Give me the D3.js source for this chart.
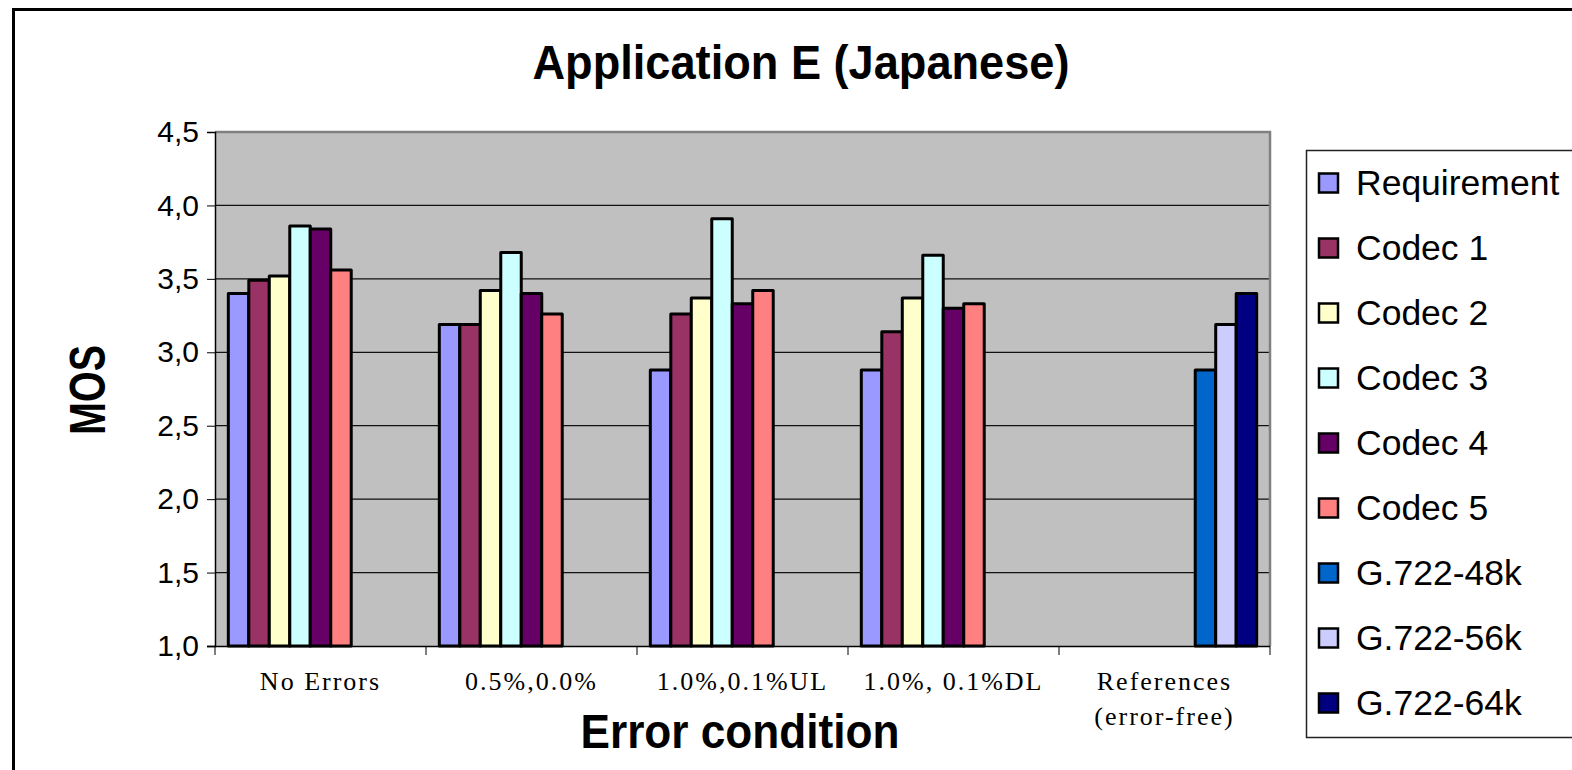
<!DOCTYPE html>
<html>
<head>
<meta charset="utf-8">
<script src="https://cdn.jsdelivr.net/npm/d3@7"></script>
<style>
  body { margin: 0; background: #fff; }
  svg { display: block; }
</style>
</head>
<body>
<div id="chart"></div>
<script>
// categories (x axis), two-line labels
const categories = ["No Errors", "0.5%,0.0%", "1.0%,0.1%UL", "1.0%, 0.1%DL", "References"];
const categoryLines = [["No Errors"], ["0.5%,0.0%"], ["1.0%,0.1%UL"], ["1.0%, 0.1%DL"], ["References", "(error-free)"]];

const seriesNames = ["Requirement", "Codec 1", "Codec 2", "Codec 3", "Codec 4", "Codec 5", "G.722-48k", "G.722-56k", "G.722-64k"];
const seriesColors = ["#9999FF", "#993366", "#FFFFCC", "#CCFFFF", "#660066", "#FF8080", "#0066CC", "#CCCCFF", "#000080"];

// MOS values per series, one per category (null = no bar)
const requirement = [3.40, 3.19, 2.88, 2.88, null];
const codec1 = [3.49, 3.19, 3.26, 3.14, null];
const codec2 = [3.52, 3.42, 3.37, 3.37, null];
const codec3 = [3.86, 3.68, 3.91, 3.66, null];
const codec4 = [3.84, 3.40, 3.33, 3.30, null];
const codec5 = [3.56, 3.26, 3.42, 3.33, null];
const g722_48 = [null, null, null, null, 2.88];
const g722_56 = [null, null, null, null, 3.19];
const g722_64 = [null, null, null, null, 3.40];
const seriesValues = [requirement, codec1, codec2, codec3, codec4, codec5, g722_48, g722_56, g722_64];

const yTicks = [1.0, 1.5, 2.0, 2.5, 3.0, 3.5, 4.0, 4.5];

const width = 1572, height = 770;
const plot = { left: 215, right: 1270, top: 132, bottom: 646 };

const svg = d3.select("#chart").append("svg")
  .attr("width", width)
  .attr("height", height);

// outer chart border (runs off the right / bottom edges)
svg.append("rect")
  .attr("x", 13.5).attr("y", 9.5)
  .attr("width", 1700).attr("height", 900)
  .attr("fill", "#fff")
  .attr("stroke", "#000")
  .attr("stroke-width", 3);

// scales
const x0 = d3.scaleBand()
  .domain(categories)
  .range([plot.left, plot.right]);

const x1 = d3.scaleBand()
  .domain(seriesNames)
  .range([0, x0.bandwidth()])
  .paddingOuter(0.65);

const y = d3.scaleLinear()
  .domain([1, 4.5])
  .range([plot.bottom, plot.top]);

// plot area
svg.append("rect")
  .attr("x", plot.left).attr("y", plot.top)
  .attr("width", plot.right - plot.left)
  .attr("height", plot.bottom - plot.top)
  .attr("fill", "#C0C0C0");

// gridlines
svg.append("g")
  .selectAll("line")
  .data(yTicks.filter(d => d > 1 && d < 4.5))
  .join("line")
  .attr("x1", plot.left).attr("x2", plot.right)
  .attr("y1", d => y(d)).attr("y2", d => y(d))
  .attr("stroke", "#111")
  .attr("stroke-width", 1.3);

// top and right plot border (gray)
svg.append("path")
  .attr("d", `M${plot.left},${plot.top} H${plot.right} V${plot.bottom}`)
  .attr("fill", "none")
  .attr("stroke", "#808080")
  .attr("stroke-width", 2.5);

// bars
const barData = [];
seriesNames.forEach((s, i) => {
  seriesValues[i].forEach((v, j) => {
    if (v != null) barData.push({ series: s, cat: categories[j], value: v, color: seriesColors[i] });
  });
});

svg.append("g")
  .selectAll("rect")
  .data(barData)
  .join("rect")
  .attr("x", d => x0(d.cat) + x1(d.series))
  .attr("width", x1.bandwidth())
  .attr("y", d => y(d.value))
  .attr("height", d => plot.bottom - y(d.value))
  .attr("fill", d => d.color)
  .attr("stroke", "#000")
  .attr("stroke-width", 3)
  .attr("stroke-linejoin", "round");

// Y axis
const yAxis = svg.append("g")
  .attr("transform", `translate(${plot.left},0)`)
  .call(d3.axisLeft(y)
    .tickValues(yTicks)
    .tickSize(8)
    .tickPadding(8)
    .tickFormat(d => d3.format(".1f")(d).replace(".", ",")));
yAxis.select(".domain").attr("stroke", "#000").attr("stroke-width", 1.5);
yAxis.selectAll(".tick line").attr("stroke", "#000").attr("stroke-width", 1);
yAxis.selectAll("text")
  .attr("font-family", "'Liberation Sans', Arial, sans-serif")
  .attr("font-size", 30)
  .attr("fill", "#000");

// X axis
const xAxis = svg.append("g")
  .attr("transform", `translate(0,${plot.bottom})`)
  .call(d3.axisBottom(x0).tickSize(0).tickFormat(""));
xAxis.select(".domain").attr("stroke", "#000").attr("stroke-width", 1.5)
  .attr("d", `M${plot.left - 8},0.5H${plot.right}`);

// category separator ticks
const sepX = categories.map(c => x0(c)).concat([plot.right]);
xAxis.append("g")
  .selectAll("line")
  .data(sepX)
  .join("line")
  .attr("x1", d => d).attr("x2", d => d)
  .attr("y1", 0).attr("y2", 9)
  .attr("stroke", "#000")
  .attr("stroke-width", 1);

// category labels
xAxis.append("g")
  .selectAll("text")
  .data(categories)
  .join("text")
  .attr("x", d => x0(d) + x0.bandwidth() / 2)
  .attr("y", 44)
  .attr("text-anchor", "middle")
  .attr("font-family", "'Liberation Serif', 'Times New Roman', serif")
  .attr("font-size", 26)
  .attr("letter-spacing", 2)
  .attr("fill", "#000")
  .selectAll("tspan")
  .data((d, i) => categoryLines[i])
  .join("tspan")
  .attr("x", function() { return this.parentNode.getAttribute("x"); })
  .attr("dy", (d, i) => i === 0 ? 0 : 35)
  .text(d => d);

// titles
svg.append("text")
  .attr("x", 801).attr("y", 79)
  .attr("text-anchor", "middle")
  .attr("font-family", "'Liberation Sans', Arial, sans-serif")
  .attr("font-weight", "bold")
  .attr("font-size", 48)
  .attr("textLength", 537)
  .attr("lengthAdjust", "spacingAndGlyphs")
  .text("Application E (Japanese)");

svg.append("text")
  .attr("transform", "translate(105,390) rotate(-90)")
  .attr("text-anchor", "middle")
  .attr("font-family", "'Liberation Sans', Arial, sans-serif")
  .attr("font-weight", "bold")
  .attr("font-size", 50)
  .attr("textLength", 90)
  .attr("lengthAdjust", "spacingAndGlyphs")
  .text("MOS");

svg.append("text")
  .attr("x", 740).attr("y", 748)
  .attr("text-anchor", "middle")
  .attr("font-family", "'Liberation Sans', Arial, sans-serif")
  .attr("font-weight", "bold")
  .attr("font-size", 48)
  .attr("textLength", 319)
  .attr("lengthAdjust", "spacingAndGlyphs")
  .text("Error condition");

// legend
const legend = svg.append("g");
legend.append("rect")
  .attr("x", 1306.5).attr("y", 150.5)
  .attr("width", 400).attr("height", 587)
  .attr("fill", "#fff")
  .attr("stroke", "#222")
  .attr("stroke-width", 1.5);

const ly = d3.scalePoint()
  .domain(seriesNames)
  .range([183, 703]);

const items = legend.selectAll("g.item")
  .data(seriesNames)
  .join("g")
  .attr("class", "item")
  .attr("transform", d => `translate(0,${ly(d)})`);

items.append("rect")
  .attr("x", 1319).attr("y", -9.5)
  .attr("width", 19).attr("height", 19)
  .attr("fill", (d, i) => seriesColors[i])
  .attr("stroke", "#000")
  .attr("stroke-width", 2.5);

items.append("text")
  .attr("x", 1356).attr("y", 12)
  .attr("font-family", "'Liberation Sans', Arial, sans-serif")
  .attr("font-size", 35.5)
  .attr("fill", "#000")
  .text(d => d);
</script>
</body>
</html>
